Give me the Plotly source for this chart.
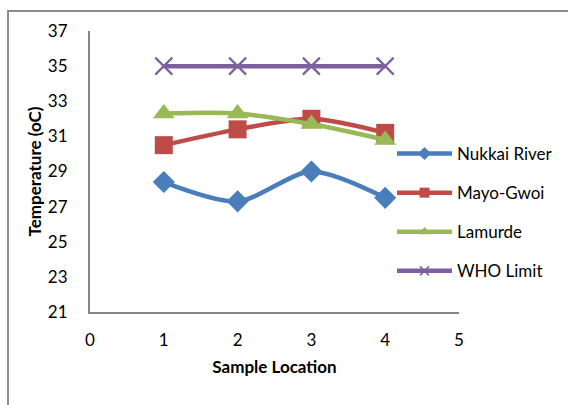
import plotly.graph_objects as go

# Sample locations and measured water temperatures (°C)
locations = [1, 2, 3, 4]
nukkai_river = [28.4, 27.3, 29.0, 27.5]
mayo_gwoi = [30.5, 31.4, 32.0, 31.2]
lamurde = [32.3, 32.3, 31.7, 30.8]
who_limit = [35, 35, 35, 35]

y_ticks = [21, 23, 25, 27, 29, 31, 33, 35, 37]
x_ticks = [0, 1, 2, 3, 4, 5]

FONT = "Lato"
FS = 17
W, H = 568, 405
L, R, T, B = 90, 109, 31, 93

series = [
    ("Nukkai River", nukkai_river, "#4A7EBB", "diamond", 17, 0, 10),
    ("Mayo-Gwoi", mayo_gwoi, "#BE4B48", "square", 18, 0, 10),
    ("Lamurde", lamurde, "#98B954", "triangle-up", 19, 0, 10),
    ("WHO Limit", who_limit, "#7D60A0", "x-thin", 17, 2.2, 9),
]

fig = go.Figure()
for i, (name, vals, color, sym, size, lw, lsize) in enumerate(series):
    fig.add_trace(go.Scatter(
        x=locations, y=vals, name=name, mode="lines+markers",
        line=dict(color=color, width=4.5, shape="spline", smoothing=0.8),
        marker=dict(symbol=sym, size=size, color=color,
                    line=dict(color=color, width=lw)),
        showlegend=False,
    ))
    # legend entry with a smaller marker
    fig.add_trace(go.Scatter(
        x=[None], y=[None], name=name, mode="lines+markers",
        line=dict(color=color, width=4.5),
        marker=dict(symbol=sym, size=lsize, color=color,
                    line=dict(color=color, width=min(lw, 1.5))),
        legendgroup=f"g{i}",
    ))

pw = W - L - R
ph = H - T - B

# Outer chart border (left and top edges visible)
fig.add_shape(type="rect", xref="paper", yref="paper",
              x0=(8 - L) / pw, x1=(W + 20 - L) / pw,
              y0=-(H + 20 - (H - B)) / ph, y1=((H - B) - 11) / ph,
              line=dict(color="#8C8C8C", width=2), fillcolor="rgba(0,0,0,0)",
              layer="below")

fig.update_layout(
    width=W, height=H,
    margin=dict(l=L, r=R, t=T, b=B, autoexpand=False),
    paper_bgcolor="white", plot_bgcolor="white",
    font=dict(family=FONT, size=FS, color="#000000"),
    showlegend=True,
    legend=dict(
        x=(392 - L) / pw, y=((H - B) - 136) / ph,
        xanchor="left", yanchor="top",
        bgcolor="rgba(0,0,0,0)",
        font=dict(family=FONT, size=FS),
        tracegroupgap=14, itemwidth=55,
    ),
    xaxis=dict(
        range=[0, 5], tickvals=x_ticks, showgrid=False, zeroline=False,
        showline=True, linecolor="#868686", linewidth=2,
        ticks="", ticklabelstandoff=12,
        title=dict(text="<b>Sample Location</b>", standoff=12,
                   font=dict(family=FONT, size=FS)),
    ),
    yaxis=dict(
        range=[21, 37], tickvals=y_ticks, showgrid=False, zeroline=False,
        showline=True, linecolor="#868686", linewidth=2,
        ticks="", ticklabelstandoff=17,
        title=dict(text="<b>Temperature (oC)</b>", standoff=2,
                   font=dict(family=FONT, size=FS)),
    ),
)

fig.write_html("out.html")
